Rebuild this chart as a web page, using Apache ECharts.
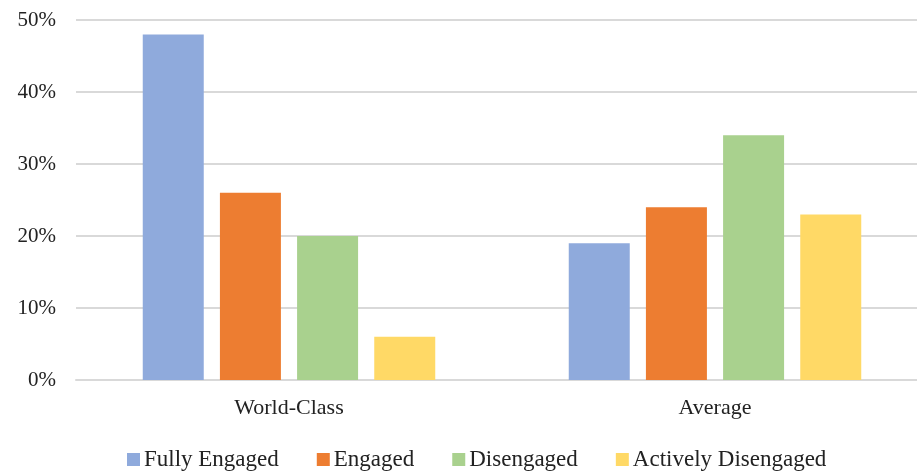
<!DOCTYPE html>
<html><head><meta charset="utf-8">
<script src="https://cdn.jsdelivr.net/npm/echarts@6/dist/echarts.min.js"></script>
<style>html,body{margin:0;padding:0;background:#fff;overflow:hidden;width:917px;height:474px}#c{width:940px;height:474px}</style>
</head><body><div id="c"></div>
<script>
const categories = ['World-Class', 'Average'];
const seriesNames = ['Fully Engaged', 'Engaged', 'Disengaged', 'Actively Disengaged'];
const fullyEngaged = [48, 19];
const engaged = [26, 24];
const disengaged = [20, 34];
const activelyDisengaged = [6, 23];
const colors = ['#8FAADC', '#ED7D31', '#A9D18E', '#FFD966'];
const values = [fullyEngaged, engaged, disengaged, activelyDisengaged];
const font = '"Liberation Serif", "Times New Roman", serif';

const chart = echarts.init(document.getElementById('c'), null, {renderer: 'canvas'});
chart.setOption({
  animation: false,
  textStyle: {fontFamily: font},
  grid: {left: 76, width: 852, top: 20, bottom: 94, containLabel: false},
  legend: {
    bottom: -2, left: 122, itemWidth: 13, itemHeight: 13, itemGap: 38,
    icon: 'rect',
    textStyle: {fontFamily: font, fontSize: 23, color: '#222', padding: [0, 0, 0, -1]},
    data: seriesNames
  },
  xAxis: {
    type: 'category', data: categories,
    axisLine: {show: true, lineStyle: {color: '#D9D9D9', width: 2}},
    axisTick: {show: false},
    axisLabel: {fontFamily: font, fontSize: 22, color: '#222', margin: 17}
  },
  yAxis: {
    type: 'value', min: 0, max: 50, interval: 10,
    axisLine: {show: false}, axisTick: {show: false},
    splitLine: {lineStyle: {color: '#D9D9D9', width: 2}},
    axisLabel: {fontFamily: font, fontSize: 21, color: '#222', margin: 20, formatter: '{value}%'}
  },
  series: seriesNames.map((n, i) => ({
    name: n, type: 'bar', data: values[i], barWidth: 61, barGap: '26.5%',
    itemStyle: {color: colors[i]}
  }))
});
</script></body></html>
